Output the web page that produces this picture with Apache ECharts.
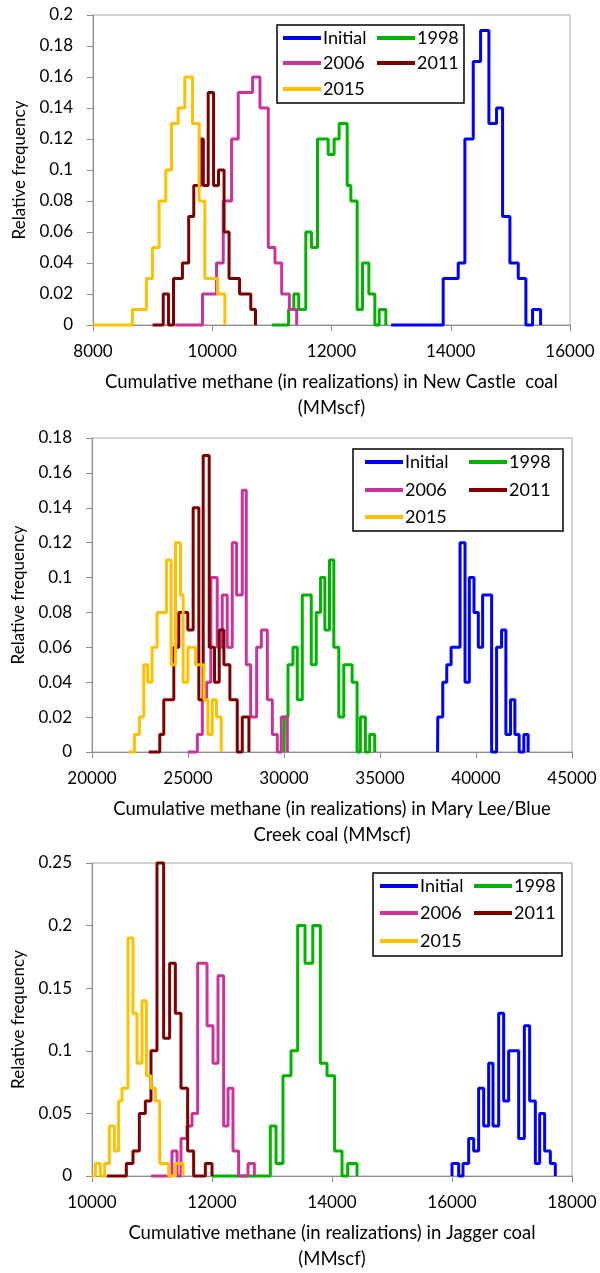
<!DOCTYPE html>
<html>
<head>
<meta charset="utf-8">
<script src="https://cdn.jsdelivr.net/npm/echarts@6/dist/echarts.min.js"></script>
<style>
  html, body { margin: 0; padding: 0; background: #fff; }
  #chart { width: 600px; height: 1273px; }
</style>
</head>
<body>
<div id="chart"></div>
<script>
// series names and colours
var names = ['Initial', '1998', '2006', '2011', '2015'];
var colors = ['#0000ff', '#00b400', '#cc3399', '#7f0000', '#ffc000'];

// New Castle coal: [bin start, relative frequency]
var castleInitial = [[13000, 0], [13873, 0.03], [14125, 0.04], [14237, 0.12], [14377, 0.17], [14500, 0.19], [14640, 0.13], [14768, 0.14], [14869, 0.07], [14992, 0.04], [15132, 0.03], [15260, 0], [15372, 0.01], [15507, 0]];
var castle1998 = [[11000, 0], [11280, 0.01], [11368, 0.02], [11450, 0.01], [11569, 0.06], [11664, 0.05], [11765, 0.12], [11944, 0.11], [12044, 0.12], [12128, 0.13], [12263, 0.09], [12324, 0.08], [12430, 0.01], [12520, 0.04], [12626, 0.02], [12727, 0], [12800, 0.01], [12911, 0]];
var castle2006 = [[9380, 0], [9837, 0.02], [10072, 0.04], [10184, 0.08], [10324, 0.12], [10436, 0.15], [10677, 0.16], [10800, 0.14], [10940, 0.05], [11052, 0.04], [11164, 0.02], [11293, 0.01], [11416, 0]];
var castle2011 = [[9000, 0], [9178, 0.02], [9267, 0], [9350, 0.03], [9500, 0.04], [9605, 0.07], [9690, 0.09], [9805, 0.12], [9850, 0.09], [9932, 0.15], [10022, 0.09], [10105, 0.10], [10198, 0.06], [10282, 0.03], [10458, 0.02], [10646, 0.01], [10725, 0]];
var castle2015 = [[8000, 0], [8661, 0.01], [8896, 0.03], [8997, 0.05], [9109, 0.08], [9221, 0.10], [9316, 0.13], [9428, 0.14], [9540, 0.16], [9669, 0.13], [9780, 0.08], [9876, 0.03], [10089, 0.02], [10212, 0]];

// Mary Lee/Blue Creek coal
var maryInitial = [[38000, 0], [38010, 0.02], [38269, 0.04], [38477, 0.05], [38702, 0.06], [39169, 0.12], [39429, 0.04], [39653, 0.10], [39896, 0.08], [40121, 0.06], [40345, 0.09], [40813, 0], [41072, 0.06], [41332, 0.07], [41556, 0.01], [41799, 0.03], [42024, 0.01], [42248, 0], [42491, 0.01], [42716, 0]];
var mary1998 = [[30000, 0], [30020, 0.02], [30208, 0.05], [30467, 0.06], [30692, 0.03], [30952, 0.09], [31419, 0.05], [31678, 0.08], [31903, 0.10], [32128, 0.07], [32370, 0.11], [32595, 0.06], [32855, 0.02], [33114, 0.05], [33547, 0.04], [33806, 0], [33979, 0.02], [34239, 0], [34463, 0.01], [34723, 0]];
var mary2006 = [[25000, 0], [25486, 0.01], [25746, 0.03], [25972, 0.04], [26190, 0.10], [26521, 0.06], [26782, 0.09], [27043, 0.06], [27304, 0.12], [27530, 0.09], [27826, 0.15], [28034, 0.05], [28264, 0.02], [28576, 0.06], [28819, 0.07], [29132, 0.03], [29392, 0.01], [29652, 0], [29861, 0.02], [30173, 0]];
var mary2011 = [[22956, 0], [23530, 0.01], [23739, 0.03], [24261, 0.06], [24521, 0.08], [24991, 0.07], [25269, 0.14], [25565, 0.03], [25791, 0.17], [26104, 0.06], [26382, 0.04], [26626, 0.07], [26869, 0.05], [27182, 0.03], [27565, 0], [27826, 0.02], [28173, 0]];
var mary2015 = [[21913, 0], [22209, 0.01], [22469, 0.02], [22695, 0.05], [22904, 0.04], [23130, 0.06], [23391, 0.08], [23878, 0.11], [24121, 0.05], [24348, 0.12], [24608, 0.09], [24747, 0.04], [24991, 0.06], [25391, 0.05], [25826, 0.03], [26034, 0.01], [26260, 0.03], [26486, 0.02], [26730, 0]];

// Jagger coal
var jaggerInitial = [[16000, 0], [16000, 0.01], [16111, 0], [16183, 0.01], [16278, 0.03], [16361, 0.02], [16444, 0.07], [16528, 0.04], [16611, 0.09], [16683, 0.04], [16778, 0.13], [16861, 0.06], [16944, 0.10], [17111, 0.03], [17206, 0.12], [17294, 0.06], [17389, 0.01], [17461, 0.05], [17544, 0.02], [17639, 0.01], [17722, 0]];
var jagger1998 = [[12000, 0], [12972, 0.04], [13067, 0.01], [13183, 0.08], [13317, 0.10], [13428, 0.20], [13550, 0.17], [13680, 0.20], [13806, 0.09], [13917, 0.08], [14044, 0.02], [14167, 0], [14261, 0.01], [14417, 0]];
var jagger2006 = [[10983, 0], [11333, 0.02], [11417, 0], [11483, 0.03], [11583, 0.04], [11667, 0.05], [11761, 0.17], [11917, 0.12], [12017, 0.09], [12100, 0.16], [12194, 0.04], [12267, 0.07], [12350, 0.02], [12444, 0], [12600, 0.01], [12706, 0]];
var jagger2011 = [[10250, 0], [10572, 0.01], [10683, 0.02], [10789, 0.05], [10889, 0.06], [10983, 0.10], [11083, 0.25], [11194, 0.11], [11294, 0.17], [11389, 0.13], [11483, 0.07], [11594, 0.02], [11694, 0], [11889, 0.01], [12000, 0]];
var jagger2015 = [[10000, 0], [10056, 0.01], [10139, 0], [10211, 0.01], [10289, 0.04], [10372, 0.02], [10444, 0.06], [10500, 0.07], [10600, 0.19], [10683, 0.13], [10750, 0.09], [10833, 0.14], [10906, 0.08], [10983, 0.07], [11056, 0.06], [11128, 0.01], [11278, 0], [11389, 0.01], [11517, 0]];

// axis ranges
var xMin = [8000, 20000, 10000];
var xMax = [16000, 45000, 18000];
var xStep = [2000, 5000, 2000];
var yMax = [0.2, 0.18, 0.25];
var yStep = [0.02, 0.02, 0.05];
var xTitles = [
    'Cumulative methane (in realizations) in New Castle  coal\n(MMscf)',
    'Cumulative methane (in realizations) in Mary Lee/Blue\nCreek coal (MMscf)',
    'Cumulative methane (in realizations) in Jagger coal\n(MMscf)'
];

var panels = [
    [castleInitial, castle1998, castle2006, castle2011, castle2015],
    [maryInitial, mary1998, mary2006, mary2011, mary2015],
    [jaggerInitial, jagger1998, jagger2006, jagger2011, jagger2015]
];

var font = 'Lato';
var grey = '#8c8c8c';
var grids = [
    { left: 93, top: 15, width: 477, height: 310 },
    { left: 92, top: 438, width: 480, height: 314 },
    { left: 92, top: 863, width: 480, height: 314 }
];
// legend boxes: x, y, w, h, col1, col2, row centres
var legendBoxes = [
    { x: 277, y: 25, w: 187, h: 78, c1: 283, c2: 377, rows: [38, 63, 89] },
    { x: 353, y: 449, w: 210, h: 82, c1: 365, c2: 469, rows: [462, 490, 517] },
    { x: 373, y: 873, w: 189, h: 83, c1: 380, c2: 474, rows: [886, 913, 941] }
];

var myChart = echarts.init(document.getElementById('chart'));

var xAxes = [], yAxes = [], series = [], legends = [], graphics = [];
grids.forEach(function (g, p) {
    g.show = true;
    g.borderColor = '#a6a6a6';
    g.borderWidth = 1;
    xAxes.push({
        type: 'value', gridIndex: p, min: xMin[p], max: xMax[p], interval: xStep[p],
        name: xTitles[p], nameLocation: 'middle', nameGap: 44,
        nameTextStyle: { fontFamily: font, fontSize: 18.5, color: '#000', lineHeight: 26 },
        axisLine: { lineStyle: { color: grey } },
        axisTick: { length: 6, lineStyle: { color: grey } },
        axisLabel: {
            margin: 18, fontFamily: font, fontSize: 17, color: '#000',
            formatter: function (v) { return String(v); }
        },
        splitLine: { show: false }
    });
    yAxes.push({
        type: 'value', gridIndex: p, min: 0, max: yMax[p], interval: yStep[p],
        name: 'Relative frequency', nameLocation: 'middle', nameGap: 58,
        nameTextStyle: { fontFamily: font, fontSize: 17, color: '#000' },
        axisLine: { show: true, lineStyle: { color: grey } },
        axisTick: { show: true, length: 6, lineStyle: { color: grey } },
        axisLabel: { margin: 20, fontFamily: font, fontSize: 17, color: '#000' },
        splitLine: { show: false }
    });
    panels[p].forEach(function (d, i) {
        series.push({
            name: names[i], type: 'line', step: 'end', data: d,
            xAxisIndex: p, yAxisIndex: p, symbol: 'none', clip: false,
            lineStyle: { color: colors[i], width: 3 },
            itemStyle: { color: colors[i] }
        });
    });
    var b = legendBoxes[p];
    graphics.push({
        type: 'rect', shape: { x: b.x, y: b.y, width: b.w, height: b.h },
        style: { fill: '#fff', stroke: '#000', lineWidth: 1.5 }, z: 5
    });
    names.forEach(function (n, i) {
        legends.push({
            data: [n], left: i % 2 === 0 ? b.c1 : b.c2, top: b.rows[Math.floor(i / 2)] - 10,
            padding: 0, icon: 'rect', itemWidth: 38, itemHeight: 4, z: 10,
            selectedMode: false,
            textStyle: { fontFamily: font, fontSize: 18, color: '#000', lineHeight: 20, padding: [0, 0, 0, -3] }
        });
    });
});

var option = {
    animation: false,
    backgroundColor: '#fff',
    grid: grids,
    xAxis: xAxes,
    yAxis: yAxes,
    legend: legends,
    graphic: graphics,
    series: series
};
myChart.setOption(option);

window.addEventListener('resize', function () {
    myChart.resize();
});
</script>
</body>
</html>
